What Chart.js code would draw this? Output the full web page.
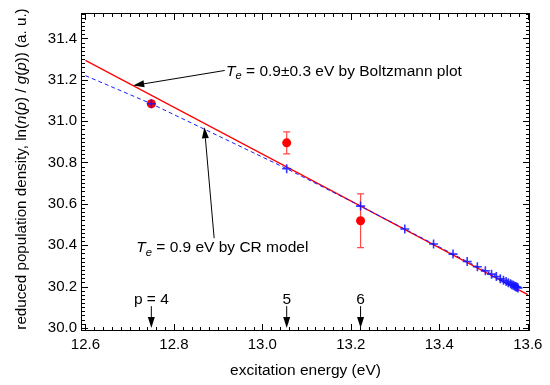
<!DOCTYPE html>
<html>
<head>
<meta charset="utf-8">
<script src="https://cdn.jsdelivr.net/npm/chart.js@4/dist/chart.umd.min.js"></script>
<style>
  html, body { margin: 0; padding: 0; background: #fff; }
  #wrap { width: 550px; height: 385px; position: relative; }
</style>
</head>
<body>
<div id="wrap"><canvas id="c"></canvas></div>
<script>
// axis ticks
const xTicks = [12.6, 12.8, 13.0, 13.2, 13.4, 13.6];
const yTicks = [30.0, 30.2, 30.4, 30.6, 30.8, 31.0, 31.2, 31.4];

// Boltzmann plot fit (red line)
const fitEnergy = [12.6, 13.6];
const fitValue = [31.294, 30.161];

// measured points with error bars
const measEnergy = [12.749, 13.055, 13.222];
const measValue = [31.084, 30.895, 30.518];
const measErr = [0.012, 0.053, 0.13];

// CR model populations (blue crosses)
const crEnergy = [12.749, 13.055, 13.222, 13.322, 13.387, 13.431, 13.463, 13.486, 13.504, 13.518,
  13.529, 13.538, 13.545, 13.551, 13.556, 13.561, 13.564, 13.567, 13.570, 13.572, 13.574, 13.576, 13.578];
const crValue = [31.084, 30.770, 30.589, 30.478, 30.406, 30.357, 30.321, 30.296, 30.276, 30.260,
  30.248, 30.238, 30.230, 30.224, 30.218, 30.213, 30.209, 30.206, 30.203, 30.200, 30.198, 30.196, 30.193];

// CR model curve (blue dashed), starts at the left edge
const crLineEnergy = [12.6].concat(crEnergy);
const crLineValue = [31.22].concat(crValue);

// level markers at the bottom
const levelLabels = ['p = 4', '5', '6'];
const levelEnergy = [12.749, 13.055, 13.222];

const FONT = '"Liberation Sans", Arial, sans-serif';
const TXT = 15.5;
const pts = (xs, ys) => xs.map((x, i) => ({ x, y: ys[i] }));

function drawRich(ctx, parts, x, y, size) {
  let cx = x;
  for (const p of parts) {
    const fs = p.sub ? size * 0.72 : size;
    ctx.font = (p.it ? 'italic ' : '') + fs + 'px ' + FONT;
    ctx.fillText(p.t, cx, y + (p.sub ? size * 0.3 : 0));
    cx += ctx.measureText(p.t).width;
  }
  return cx - x;
}
function richWidth(ctx, parts, size) {
  let w = 0;
  for (const p of parts) {
    const fs = p.sub ? size * 0.72 : size;
    ctx.font = (p.it ? 'italic ' : '') + fs + 'px ' + FONT;
    w += ctx.measureText(p.t).width;
  }
  return w;
}
function arrow(ctx, x1, y1, x2, y2) {
  const a = Math.atan2(y2 - y1, x2 - x1), L = 11, W = 3.5;
  ctx.beginPath(); ctx.moveTo(x1, y1);
  ctx.lineTo(x2 - L * Math.cos(a), y2 - L * Math.sin(a)); ctx.stroke();
  ctx.beginPath(); ctx.moveTo(x2, y2);
  ctx.lineTo(x2 - L * Math.cos(a) + W * Math.sin(a), y2 - L * Math.sin(a) - W * Math.cos(a));
  ctx.lineTo(x2 - L * Math.cos(a) - W * Math.sin(a), y2 - L * Math.sin(a) + W * Math.cos(a));
  ctx.closePath(); ctx.fill();
}

const errorBars = {
  id: 'errorBars',
  beforeDatasetsDraw(chart) {
    const { ctx, scales: { x, y } } = chart;
    ctx.save();
    ctx.strokeStyle = 'rgba(255,40,40,0.85)';
    ctx.lineWidth = 1.2;
    measEnergy.forEach((e, i) => {
      const px = x.getPixelForValue(e);
      const t = y.getPixelForValue(measValue[i] + measErr[i]);
      const b = y.getPixelForValue(measValue[i] - measErr[i]);
      ctx.beginPath();
      ctx.moveTo(px, t); ctx.lineTo(px, b);
      ctx.moveTo(px - 3.5, t); ctx.lineTo(px + 3.5, t);
      ctx.moveTo(px - 3.5, b); ctx.lineTo(px + 3.5, b);
      ctx.stroke();
    });
    ctx.restore();
  }
};

const frame = {
  id: 'frame',
  afterDraw(chart) {
    const { ctx, chartArea: a, scales: { x, y } } = chart;
    ctx.save();
    ctx.strokeStyle = '#000';
    ctx.lineWidth = 1;
    ctx.strokeRect(a.left + 0.5, a.top + 0.5, a.right - a.left - 1, a.bottom - a.top - 1);
    ctx.beginPath();
    for (let i = 0; i <= 50; i++) {
      const v = 12.6 + i * 0.02, px = Math.round(x.getPixelForValue(v)) + 0.5;
      if (px > a.right) break;
      const len = i % 10 === 0 ? 7 : 4;
      ctx.moveTo(px, a.bottom); ctx.lineTo(px, a.bottom - len);
      ctx.moveTo(px, a.top); ctx.lineTo(px, a.top + len);
    }
    for (let i = 0; i <= 76; i++) {
      const v = 30.0 + i * 0.02, py = Math.round(y.getPixelForValue(v)) + 0.5;
      if (py < a.top) break;
      const len = i % 10 === 0 ? 7 : 4;
      ctx.moveTo(a.left, py); ctx.lineTo(a.left + len, py);
      ctx.moveTo(a.right, py); ctx.lineTo(a.right - len, py);
    }
    ctx.stroke();

    // annotations
    ctx.fillStyle = '#000';
    ctx.lineWidth = 1;
    ctx.textBaseline = 'middle';
    ctx.textAlign = 'left';
    const b1 = [{ t: 'T', it: true }, { t: 'e', it: true, sub: true }, { t: ' = 0.9\u00b10.3 eV by Boltzmann plot' }];
    drawRich(ctx, b1, x.getPixelForValue(12.918), y.getPixelForValue(31.24), TXT);
    arrow(ctx, x.getPixelForValue(12.915), y.getPixelForValue(31.245), x.getPixelForValue(12.708), y.getPixelForValue(31.172));
    const b2 = [{ t: 'T', it: true }, { t: 'e', it: true, sub: true }, { t: ' = 0.9 eV by CR model' }];
    drawRich(ctx, b2, x.getPixelForValue(12.715), y.getPixelForValue(30.387), TXT);
    arrow(ctx, x.getPixelForValue(12.891), y.getPixelForValue(30.434), x.getPixelForValue(12.869), y.getPixelForValue(30.97));

    // level markers
    ctx.textAlign = 'center';
    ctx.font = TXT + 'px ' + FONT;
    levelEnergy.forEach((e, i) => {
      const px = x.getPixelForValue(e);
      ctx.fillText(levelLabels[i], px, y.getPixelForValue(30.138));
      arrow(ctx, px, y.getPixelForValue(30.105), px, y.getPixelForValue(30.0));
    });

    // y axis title
    const yt = [{ t: 'reduced population density, ln(' }, { t: 'n', it: true }, { t: '(' }, { t: 'p', it: true },
      { t: ') / ' }, { t: 'g', it: true }, { t: '(' }, { t: 'p', it: true }, { t: ')) (a. u.)' }];
    ctx.translate(21.5, 169);
    ctx.rotate(-Math.PI / 2);
    ctx.textAlign = 'left';
    drawRich(ctx, yt, -richWidth(ctx, yt, 15.2) / 2, 0, 15.2);
    ctx.restore();
  }
};

new Chart(document.getElementById('c'), {
  type: 'scatter',
  data: {
    datasets: [
      { type: 'scatter', data: pts(crEnergy, crValue), order: 0, pointStyle: 'cross', pointRadius: 4.5,
        borderColor: 'rgba(20,20,255,0.85)', borderWidth: 1.6, backgroundColor: 'transparent' },
      { type: 'scatter', data: pts(measEnergy, measValue), order: 1, pointStyle: 'circle', pointRadius: 4.5,
        backgroundColor: '#ff0000', borderColor: '#ff0000', borderWidth: 0 },
      { type: 'line', data: pts(crLineEnergy, crLineValue), order: 2, borderColor: '#1a1aff', borderWidth: 1,
        borderDash: [4, 3], pointRadius: 0, fill: false, tension: 0 },
      { type: 'line', data: pts(fitEnergy, fitValue), order: 3, borderColor: '#ff0000', borderWidth: 1.2,
        pointRadius: 0, fill: false, tension: 0 }
    ]
  },
  options: {
    responsive: true,
    maintainAspectRatio: false,
    animation: false,
    layout: { padding: { left: 0, right: 20, top: 5, bottom: 0 } },
    plugins: { legend: { display: false }, tooltip: { enabled: false } },
    scales: {
      x: {
        type: 'linear', min: 12.59, max: 13.605,
        afterBuildTicks: s => { s.ticks = xTicks.map(v => ({ value: v })); },
        afterFit: s => { s.height = 54; },
        grid: { display: false, drawTicks: false }, border: { display: false },
        ticks: { color: '#000', padding: 5, maxRotation: 0, font: { family: FONT, size: 15 },
          callback: v => v.toFixed(1) },
        title: { display: true, text: 'excitation energy (eV)', color: '#000', font: { family: FONT, size: TXT }, padding: { top: 6, bottom: 5 } }
      },
      y: {
        type: 'linear', min: 29.985, max: 31.523,
        afterBuildTicks: s => { s.ticks = yTicks.map(v => ({ value: v })); },
        afterFit: s => { s.width = 81; },
        grid: { display: false, drawTicks: false }, border: { display: false },
        ticks: { color: '#000', padding: 4, font: { family: FONT, size: 15 },
          callback: v => v.toFixed(1) }
      }
    }
  },
  plugins: [errorBars, frame]
});
</script>
</body>
</html>
